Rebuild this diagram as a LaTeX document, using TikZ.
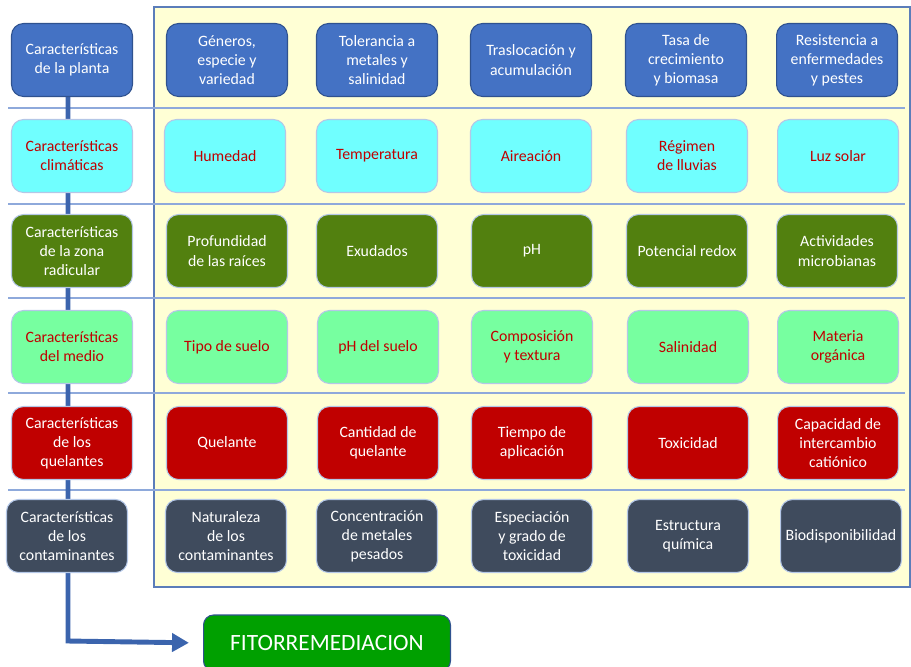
\documentclass[tikz,border=0pt]{standalone}
\usepackage{fontspec}
\setmainfont{Carlito}
\usetikzlibrary{arrows.meta, backgrounds}

\definecolor{plantablue}{HTML}{4472C4}
\definecolor{plantaedge}{HTML}{2F528F}
\definecolor{climacyan}{HTML}{70FFFF}
\definecolor{raizgreen}{HTML}{52800F}
\definecolor{mediogreen}{HTML}{77FFA0}
\definecolor{quelred}{HTML}{C00000}
\definecolor{contslate}{HTML}{3F4B5D}
\definecolor{redtext}{HTML}{C00000}
\definecolor{softedge}{HTML}{B4C7E7}
\definecolor{panelbg}{HTML}{FFFFD5}
\definecolor{paneledge}{HTML}{5B7DBA}
\definecolor{sepline}{HTML}{8EA9DB}
\definecolor{spineblue}{HTML}{3B64AD}
\definecolor{fitogreen}{HTML}{00A000}

\tikzset{
  box/.style={rounded corners=0.24cm, minimum width=2.42cm, minimum height=1.46cm,
    align=center, inner sep=1pt, line width=0.6pt, font=\fontsize{9}{10.9}\selectfont},
  planta/.style={box, fill=plantablue, draw=plantaedge, text=white},
  clima/.style={box, fill=climacyan, draw=softedge, text=redtext},
  raiz/.style={box, fill=raizgreen, draw=softedge, text=white},
  medio/.style={box, fill=mediogreen, draw=softedge, text=redtext},
  quel/.style={box, fill=quelred, draw=softedge, text=white},
  cont/.style={box, fill=contslate, draw=softedge, text=white},
  sep/.style={draw=sepline, line width=0.6pt},
  spine/.style={draw=spineblue, line width=2.8pt, -{Triangle[length=9.6pt,width=10.2pt]}, shorten >=8pt}
}

\begin{document}
\begin{tikzpicture}[x=0.02cm, y=-0.02cm]
  \useasboundingbox (0,0) rectangle (911,666);

  % Plant
  \node[planta] (planta) at (72,60) {Características\\de la planta};
  \node[planta] (pl1) at (227,60) {Géneros,\\especie y\\variedad};
  \node[planta] (pl2) at (377,60) {Tolerancia a\\metales y\\salinidad};
  \node[planta] (pl3) at (531,60) {Traslocación y\\acumulación};
  \node[planta] (pl4) at (686,60) {Tasa de\\crecimiento\\y biomasa};
  \node[planta] (pl5) at (837,60) {Resistencia a\\enfermedades\\y pestes};

  % Climate
  \node[clima] (clima) at (72,156) {Características\\climáticas};
  \node[clima] (cl1) at (225,156) {Humedad};
  \node[clima] (cl2) at (377,156) {Temperatura};
  \node[clima] (cl3) at (531,156) {Aireación};
  \node[clima] (cl4) at (687,156) {Régimen\\de lluvias};
  \node[clima] (cl5) at (838,156) {Luz solar};

  % Root zone
  \node[raiz] (raiz) at (72,251) {Características\\de la zona\\radicular};
  \node[raiz] (rz1) at (227,251) {Profundidad\\de las raíces};
  \node[raiz] (rz2) at (377,251) {Exudados};
  \node[raiz] (rz3) at (532,251) {pH};
  \node[raiz] (rz4) at (687,251) {Potencial redox};
  \node[raiz] (rz5) at (837,251) {Actividades\\microbianas};

  % Medium
  \node[medio] (medio) at (72,347) {Características\\del medio};
  \node[medio] (me1) at (227,347) {Tipo de suelo};
  \node[medio] (me2) at (378,347) {pH del suelo};
  \node[medio] (me3) at (532,347) {Composición\\y textura};
  \node[medio] (me4) at (688,347) {Salinidad};
  \node[medio] (me5) at (838,347) {Materia\\orgánica};

  % Chelators
  \node[quel] (quel) at (72,443) {Características\\de los\\quelantes};
  \node[quel] (qu1) at (227,443) {Quelante};
  \node[quel] (qu2) at (378,443) {Cantidad de\\quelante};
  \node[quel] (qu3) at (532,443) {Tiempo de\\aplicación};
  \node[quel] (qu4) at (688,443) {Toxicidad};
  \node[quel] (qu5) at (838,443) {Capacidad de\\intercambio\\catiónico};

  % Contaminants
  \node[cont] (cont) at (67,536) {Características\\de los\\contaminantes};
  \node[cont] (co1) at (226,536) {Naturaleza\\de los\\contaminantes};
  \node[cont] (co2) at (377,536) {Concentración\\de metales\\pesados};
  \node[cont] (co3) at (532,536) {Especiación\\y grado de\\toxicidad};
  \node[cont] (co4) at (688,536) {Estructura\\química};
  \node[cont] (co5) at (841,536) {Biodisponibilidad};

  % Result
  \node[box, minimum width=4.94cm, minimum height=1.12cm, rounded corners=0.2cm,
    fill=fitogreen, draw=plantaedge, text=white, font=\fontsize{13.3}{15}\selectfont]
    (fito) at (327,643) {FITORREMEDIACION};

  % Panel, row separators and spine, behind the boxes
  \coordinate (bend) at (68,641);
  \begin{scope}[on background layer]
    \draw[fill=panelbg, draw=paneledge, line width=0.8pt] (154,7) rectangle (910,587);
    \foreach \y in {108,204,298,393,490}
      \draw[sep] (8,\y) -- (905,\y);
    \draw[spine] (planta.south -| bend) -- (bend) -- (fito.west);
  \end{scope}

\end{tikzpicture}
\end{document}
